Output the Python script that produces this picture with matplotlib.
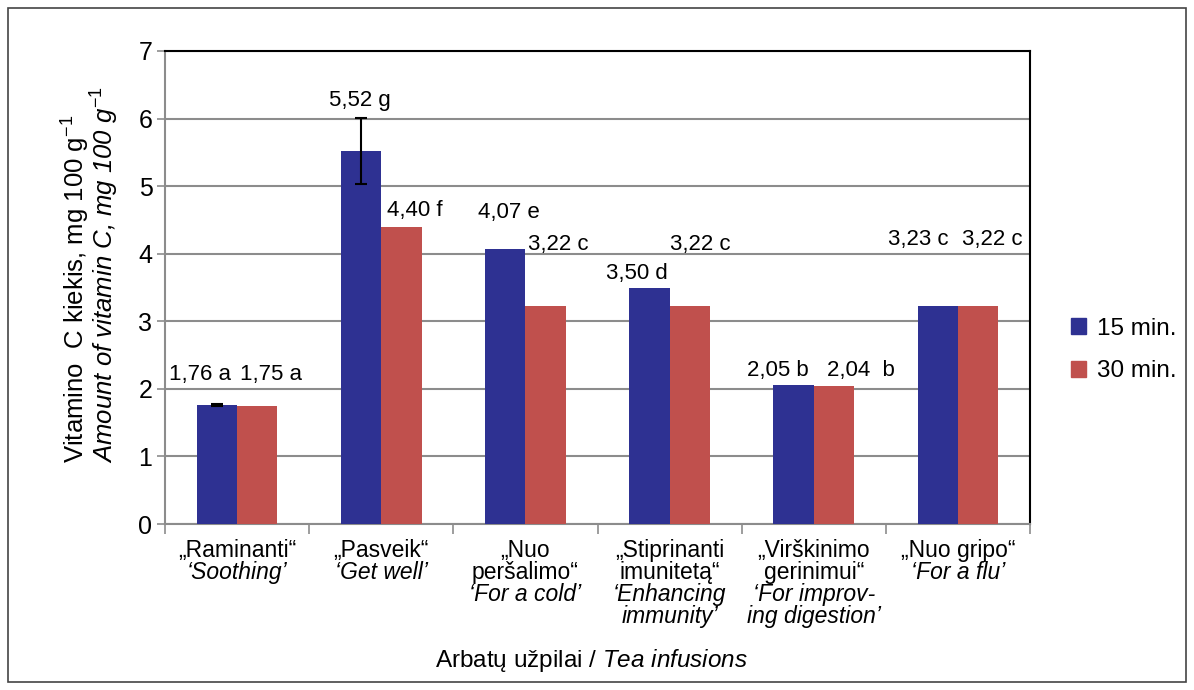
import matplotlib
matplotlib.use("Agg")
from matplotlib import pyplot as plt
from matplotlib.patches import Rectangle, Patch
import numpy as np

plt.rcParams['font.family'] = ['Liberation Sans', 'DejaVu Sans']
plt.rcParams['mathtext.fontset'] = 'custom'
plt.rcParams['mathtext.rm'] = 'Liberation Sans'
plt.rcParams['mathtext.it'] = 'Liberation Sans:italic'

# data
cats_lt = ["„Raminanti“", "„Pasveik“", "„Nuo\nperšalimo“", "„Stiprinanti\nimunitetą“",
           "„Virškinimo\ngerinimui“", "„Nuo gripo“"]
cats_en = ["‘Soothing’", "‘Get well’", "‘For a cold’", "‘Enhancing\nimmunity’",
           "‘For improv-\ning digestion’", "‘For a flu’"]
vals_15 = [1.76, 5.52, 4.07, 3.50, 2.05, 3.23]
vals_30 = [1.75, 4.40, 3.22, 3.22, 2.04, 3.22]
err_15 = [0.01, 0.49, 0, 0, 0, 0]
labels_15 = ["1,76 a", "5,52 g", "4,07 e", "3,50 d", "2,05 b", "3,23 c"]
labels_30 = ["1,75 a", "4,40 f", "3,22 c", "3,22 c", "2,04  b", "3,22 c"]

# label offsets from bar top centre (pixels, baseline)
offs_15 = [(-17, 25), (-1, 45), (4, 31), (-13, 9), (-16, 9), (-19, 61)]
offs_30 = [(14, 26), (13, 11), (13, 56), (11, 56), (27, 10), (14, 61)]

blue = '#2E3192'
red = '#C0504D'
grid_c = '#8C8C8C'

fig = plt.figure(figsize=(11.94, 6.9), dpi=100)
ax = fig.add_axes([165 / 1194, 1 - 524 / 690, 865 / 1194, 473 / 690])

x = np.arange(len(vals_15))
w = 0.28
ax.bar(x - w / 2, vals_15, w, color=blue, zorder=3)
ax.bar(x + w / 2, vals_30, w, color=red, zorder=3)

for i in range(len(x)):
    if err_15[i] > 0:
        ax.errorbar(x[i] - w / 2, vals_15[i], yerr=err_15[i], fmt='none', ecolor='black',
                    elinewidth=1.5, capsize=4.5, capthick=1.5, zorder=4)

for i in range(len(x)):
    ax.annotate(labels_15[i], (x[i] - w / 2, vals_15[i]), xytext=offs_15[i],
                textcoords='offset pixels', ha='center', va='baseline', fontsize=16, zorder=5)
    ax.annotate(labels_30[i], (x[i] + w / 2, vals_30[i]), xytext=offs_30[i],
                textcoords='offset pixels', ha='center', va='baseline', fontsize=16, zorder=5)

ax.set_xlim(-0.5, 5.5)
ax.set_ylim(0, 7)
ax.set_yticks(range(0, 8))
ax.tick_params(axis='y', labelsize=18, direction='out', length=6, width=1.2, color=grid_c, pad=3)
ax.set_xticks(np.arange(-0.5, 6, 1))
ax.set_xticklabels([])
ax.tick_params(axis='x', direction='out', length=7, width=1.2, color=grid_c)
ax.yaxis.grid(True, color=grid_c, linewidth=1.5, zorder=0)
ax.set_axisbelow(True)

for s in ['left', 'bottom']:
    ax.spines[s].set_color(grid_c)
    ax.spines[s].set_linewidth(1.5)
for s in ['top', 'right']:
    ax.spines[s].set_color('black')
    ax.spines[s].set_linewidth(1.5)

# category labels: Lithuanian regular, English italic
line_h = 22
for i in range(len(x)):
    lines = [(t, 'normal') for t in cats_lt[i].split('\n')] + \
            [(t, 'italic') for t in cats_en[i].split('\n')]
    for j, (t, st) in enumerate(lines):
        ax.annotate(t, (x[i], 0), xycoords=('data', 'axes fraction'),
                    xytext=(0, -33 - line_h * j), textcoords='offset pixels',
                    ha='center', va='baseline', fontsize=16.5, style=st)

fig.text(591 / 1194, 1 - 660 / 690, r"Arbatų užpilai / $\mathit{Tea\ infusions}$",
         ha='center', va='center', fontsize=17.5)

fig.text(76 / 1194, 1 - 463 / 690, "Vitamino  C kiekis, mg 100 g$^{-1}$",
         rotation=90, ha='center', va='bottom', fontsize=18.5)
fig.text(105 / 1194, 1 - 463 / 690, "Amount of vitamin C, mg 100 g$^{-1}$",
         rotation=90, ha='center', va='bottom', fontsize=18.5, style='italic')

handles = [Patch(color=blue), Patch(color=red)]
fig.legend(handles, ["15 min.", "30 min."], loc='center left', bbox_to_anchor=(1071 / 1194, 1 - 350 / 690),
           frameon=False, fontsize=17.5, handlelength=0.62, handleheight=0.62, handletextpad=0.45,
           labelspacing=0.85, borderaxespad=0, borderpad=0)

fig.add_artist(Rectangle((8 / 1194, 8 / 690), 1178 / 1194, 674 / 690, transform=fig.transFigure,
                         fill=False, edgecolor='#444444', linewidth=1.2))

fig.savefig('out.png', dpi=100)
